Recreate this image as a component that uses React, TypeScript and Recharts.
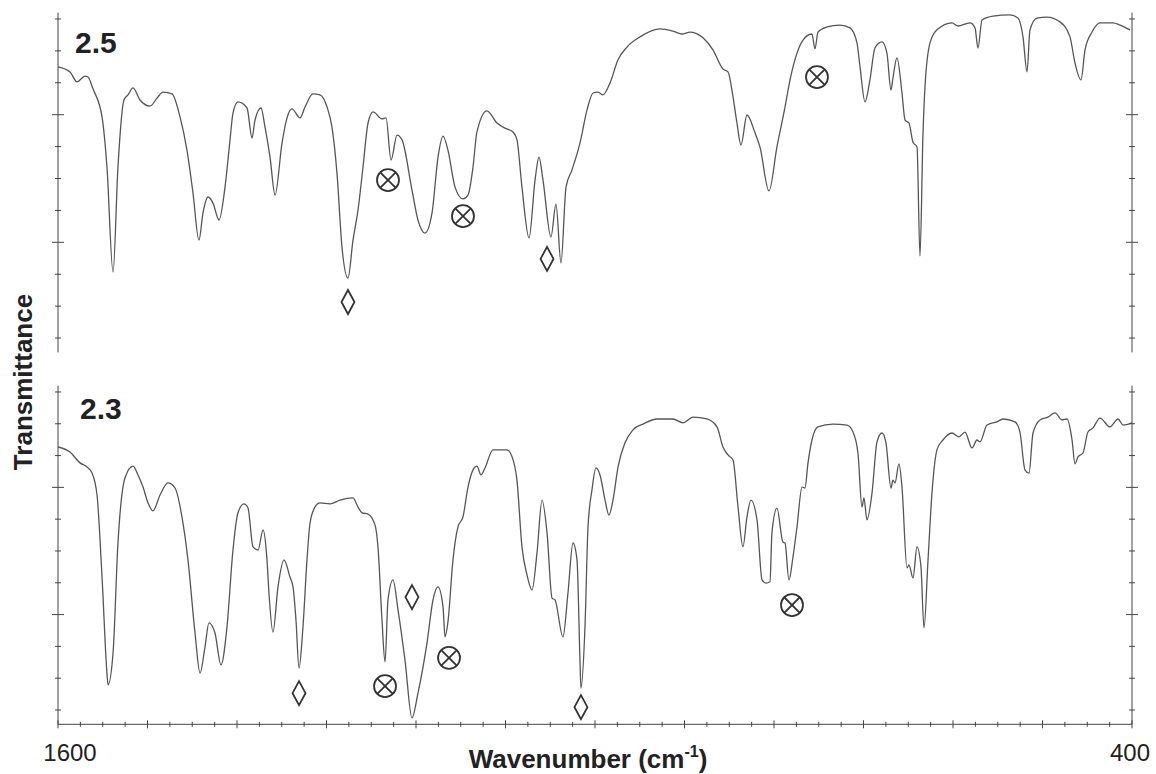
import React from "react";
import { ComposedChart, Line, Scatter, XAxis, YAxis } from "recharts";

// ---- Spectrum "2.5" (upper trace) ----
const topWavenumber = [
  1600, 1586.6, 1578.8, 1569.8, 1566.5, 1560.9, 1550.8, 1545.3, 1538.5, 1533.0,
  1526.3, 1521.8, 1516.2, 1508.4, 1497.2, 1489.4, 1482.7, 1472.6, 1463.7, 1455.9,
  1449.2, 1442.5, 1438.0, 1432.4, 1426.8, 1420.1, 1413.4, 1407.8, 1404.5, 1398.9,
  1388.8, 1383.2, 1379.9, 1373.2, 1368.7, 1363.1, 1357.5, 1349.7, 1344.1, 1338.6,
  1329.6, 1324.0, 1315.1, 1307.3, 1299.4, 1293.9, 1288.3, 1282.7, 1276.0, 1270.4,
  1264.8, 1259.2, 1253.6, 1248.0, 1238.0, 1233.5, 1227.9, 1221.2, 1215.6, 1204.5,
  1197.8, 1189.9, 1182.1, 1175.4, 1169.8, 1164.3, 1156.4, 1147.5, 1141.9, 1136.3,
  1131.9, 1120.7, 1109.5, 1100.6, 1091.6, 1087.2, 1081.6, 1073.7, 1067.0, 1062.6,
  1058.1, 1049.2, 1043.6, 1038.0, 1032.4, 1025.7, 1016.8, 1008.9, 1002.2, 996.7,
  991.1, 983.3, 974.3, 964.3, 949.7, 927.4, 912.9, 902.8, 893.9, 879.3,
  868.2, 857.0, 851.4, 845.8, 841.4, 836.9, 830.2, 821.2, 815.7, 805.6,
  796.7, 787.7, 782.1, 774.3, 767.6, 757.6, 754.2, 750.9, 740.8, 726.3,
  715.1, 707.3, 703.9, 698.3, 692.8, 687.2, 679.3, 673.8, 669.3, 667.1,
  662.6, 657.0, 653.6, 649.2, 644.7, 640.2, 636.9, 633.5, 631.3, 625.7,
  617.9, 601.1, 594.4, 581.0, 575.4, 572.1, 567.6, 555.3, 536.3, 527.4,
  521.8, 517.3, 514.0, 506.2, 495.0, 480.5, 469.3, 463.7, 457.0, 452.5,
  444.7, 435.8, 421.3, 413.4, 402.2,
];
const topTransmittance = [
  85.0, 83.4, 80.3, 82.1, 81.8, 78.1, 69.3, 53.6, 20.7, 53.6,
  74.6, 76.2, 78.4, 74.6, 72.7, 75.2, 77.1, 76.5, 69.3, 58.9,
  45.5, 30.7, 39.2, 44.2, 42.3, 37.0, 47.3, 62.1, 70.5, 74.0,
  72.1, 62.7, 68.3, 72.1, 66.1, 56.7, 44.8, 61.1, 69.0, 71.8,
  69.0, 72.4, 76.5, 76.2, 72.4, 66.1, 51.7, 28.5, 18.8, 30.7,
  40.1, 53.6, 67.4, 70.9, 68.7, 69.0, 55.8, 63.6, 62.1, 46.4,
  37.0, 32.9, 39.2, 56.7, 63.3, 58.9, 47.3, 43.6, 44.8, 53.6,
  64.6, 71.2, 67.4, 65.8, 64.6, 62.1, 47.3, 31.4, 49.5, 56.7,
  49.5, 31.7, 42.0, 23.5, 47.3, 52.7, 61.1, 71.5, 76.8, 77.1,
  76.2, 79.9, 87.2, 91.2, 94.4, 96.9, 96.2, 95.3, 95.9, 94.1,
  90.3, 84.3, 83.4, 75.6, 67.4, 60.5, 69.9, 64.3, 59.9, 46.1,
  59.9, 72.4, 80.9, 89.3, 93.4, 95.3, 90.6, 95.9, 97.5, 98.1,
  97.2, 92.5, 85.0, 74.0, 80.9, 90.9, 92.8, 89.3, 77.7, 81.5,
  87.8, 76.8, 68.3, 67.4, 61.4, 59.9, 25.7, 64.3, 78.7, 92.5,
  96.6, 98.8, 97.8, 98.8, 97.2, 90.9, 99.7, 100.9, 101.3, 100.3,
  94.4, 83.4, 96.6, 100.3, 100.6, 99.1, 94.4, 86.2, 80.9, 90.3,
  95.9, 98.8, 98.8, 98.1, 96.6,
];

// ---- Spectrum "2.3" (lower trace) ----
const bottomWavenumber = [
  1600, 1586.6, 1575.4, 1567.6, 1562.0, 1556.4, 1550.8, 1545.3, 1544.1, 1538.5,
  1533.0, 1525.1, 1516.2, 1510.6, 1505.0, 1499.4, 1493.9, 1486.0, 1477.1, 1469.3,
  1461.5, 1454.8, 1446.9, 1441.3, 1435.8, 1431.3, 1424.6, 1417.9, 1411.2, 1404.5,
  1398.9, 1392.2, 1387.7, 1382.1, 1376.5, 1370.9, 1366.5, 1364.3, 1359.8, 1354.2,
  1347.5, 1340.8, 1337.4, 1334.1, 1330.7, 1326.3, 1321.8, 1318.4, 1312.9, 1307.3,
  1296.1, 1284.9, 1270.4, 1264.8, 1260.3, 1253.6, 1245.8, 1242.5, 1238.0, 1234.6,
  1231.3, 1225.7, 1220.1, 1212.3, 1204.5, 1197.8, 1187.7, 1181.0, 1175.4, 1169.8,
  1167.6, 1164.3, 1158.7, 1153.1, 1147.5, 1141.9, 1136.3, 1131.9, 1127.4, 1122.9,
  1114.0, 1098.3, 1092.7, 1087.2, 1081.6, 1076.0, 1070.4, 1064.8, 1059.2, 1053.6,
  1048.0, 1044.7, 1035.8, 1030.2, 1024.6, 1020.1, 1016.8, 1015.7, 1011.2, 1007.8,
  1003.4, 998.9, 994.4, 988.8, 984.4, 979.9, 974.3, 966.5, 957.6, 946.4,
  930.7, 912.9, 901.7, 890.5, 874.9, 863.7, 857.0, 851.4, 845.8, 840.2,
  834.7, 830.2, 825.7, 819.0, 813.4, 809.0, 804.5, 802.3, 796.7, 790.0,
  787.7, 783.3, 778.8, 774.3, 768.7, 765.4, 762.0, 757.6, 750.9, 734.1,
  718.4, 711.7, 706.2, 701.7, 699.5, 696.1, 690.5, 684.9, 679.3, 674.9,
  669.3, 667.1, 664.8, 660.4, 657.0, 651.4, 649.2, 644.7, 640.2, 635.8,
  632.4, 627.9, 623.5, 617.9, 611.2, 601.1, 593.3, 586.6, 578.8, 573.2,
  569.8, 562.0, 550.9, 544.2, 530.7, 525.2, 519.6, 515.1, 510.6, 502.8,
  493.9, 486.0, 478.2, 472.6, 467.0, 463.7, 460.3, 454.8, 449.2, 443.6,
  435.8, 424.6, 415.6, 410.0, 400.0,
];
const bottomTransmittance = [
  82.7, 81.1, 77.7, 76.4, 74.5, 67.6, 41.8, 11.6, 7.9, 17.9,
  52.5, 73.0, 76.7, 73.9, 70.1, 65.1, 62.6, 67.6, 71.4, 69.8,
  60.7, 47.2, 24.2, 11.6, 19.8, 27.4, 24.2, 14.2, 26.1, 50.3,
  62.0, 64.8, 63.5, 51.3, 50.3, 56.6, 47.2, 36.8, 24.5, 38.7,
  47.2, 41.8, 38.7, 28.3, 13.2, 26.1, 47.2, 58.8, 63.8, 65.1,
  64.8, 66.0, 66.7, 63.8, 62.0, 61.6, 58.2, 51.3, 28.3, 15.1,
  34.6, 40.9, 31.5, 15.7, -2.5, 5.3, 21.1, 34.6, 38.7, 32.4,
  23.0, 27.7, 47.2, 57.6, 60.7, 70.1, 75.5, 76.7, 73.9, 76.1,
  81.8, 81.8, 79.6, 72.3, 51.3, 42.5, 37.7, 49.4, 66.0, 55.7,
  35.2, 34.6, 23.0, 36.8, 52.5, 47.2, 15.7, 6.9, 26.1, 57.6,
  69.2, 76.1, 73.9, 66.0, 61.3, 66.0, 76.4, 84.0, 88.1, 89.9,
  91.5, 91.5, 90.3, 92.1, 91.5, 89.0, 82.7, 80.2, 78.6, 63.8,
  51.3, 60.7, 66.0, 59.8, 40.9, 39.9, 40.3, 55.7, 63.5, 52.8,
  52.5, 40.9, 48.1, 57.6, 70.1, 69.8, 77.7, 84.9, 89.0, 89.9,
  89.6, 87.4, 80.8, 63.8, 66.7, 59.8, 68.2, 84.3, 87.1, 84.0,
  69.8, 72.3, 71.4, 77.4, 70.1, 44.7, 45.6, 41.5, 51.3, 45.0,
  25.8, 47.2, 68.2, 81.8, 84.9, 87.1, 85.9, 87.4, 82.4, 84.9,
  84.3, 89.6, 90.6, 91.5, 90.6, 87.4, 75.5, 74.5, 87.1, 91.2,
  92.1, 93.4, 91.2, 91.5, 84.9, 77.4, 79.6, 80.8, 87.4, 88.7,
  91.8, 89.0, 91.5, 89.6, 90.3,
];

// ---- Band markers (wavenumber, transmittance) ----
const topDiamondWn = [1276.0, 1053.6];
const topDiamondT = [11.3, 24.8];
const topCrossWn = [1231.3, 1147.5, 752.0];
const topCrossT = [49.5, 38.2, 81.8];
const bottomDiamondWn = [1330.7, 1204.5, 1015.7];
const bottomDiamondT = [5.3, 35.5, 0.9];
const bottomCrossWn = [1234.6, 1163.1, 779.9];
const bottomCrossT = [7.5, 16.4, 33.0];

// ---- Labels / ticks ----
const panelLabels = ["2.5", "2.3"];
const xEndLabels = [1600, 400];
const xTitle = "Wavenumber (cm";
const yTitle = "Transmittance";
const yTicks = [0, 10, 20, 30, 40, 50, 60, 70, 80, 90, 100];
const yMajorTicks = [30, 70];
const xTicks = Array.from({ length: 49 }, (_, i) => 400 + i * 25);

const zip = (w: number[], t: number[]) => w.map((wn, i) => ({ wn, t: t[i] }));

const topData = zip(topWavenumber, topTransmittance);
const bottomData = zip(bottomWavenumber, bottomTransmittance);
const topDiamonds = zip(topDiamondWn, topDiamondT);
const topCrosses = zip(topCrossWn, topCrossT);
const bottomDiamonds = zip(bottomDiamondWn, bottomDiamondT);
const bottomCrosses = zip(bottomCrossWn, bottomCrossT);

const FONT = '"Liberation Sans", Arial, Helvetica, sans-serif';
const AXIS = "#444";
const LINE = "#555";
const MARK = "#333";
const W = 1156;
const H = 774;

const YTick = (props: any) => {
  const { x, y, payload } = props;
  const major = yMajorTicks.includes(payload.value);
  const len = major ? 6 : 3;
  return <line x1={x - len} x2={x + len} y1={y} y2={y} stroke={AXIS} strokeWidth={1} />;
};

const XTick = (props: any) => {
  const { x, y, payload } = props;
  const v = payload.value;
  const major = v % 100 === 0;
  const len = major ? 4 : 2.5;
  const labelled = xEndLabels.includes(v);
  const dx = v === 1600 ? 12 : -2;
  return (
    <g>
      <line x1={x} x2={x} y1={y - len} y2={y + len} stroke={AXIS} strokeWidth={1} />
      {labelled && (
        <text x={x + dx} y={y + 37} textAnchor="middle" fontSize={24} fill="#222" fontFamily={FONT}>
          {v}
        </text>
      )}
    </g>
  );
};

const Diamond = (props: any) => {
  const { cx, cy } = props;
  return (
    <path
      d={`M${cx},${cy - 12} L${cx + 6.5},${cy} L${cx},${cy + 12} L${cx - 6.5},${cy} Z`}
      fill="none"
      stroke={MARK}
      strokeWidth={1.8}
    />
  );
};

const CircleX = (props: any) => {
  const { cx, cy } = props;
  const r = 11;
  const d = r * 0.7071;
  return (
    <g fill="none" stroke={MARK} strokeWidth={1.8}>
      <circle cx={cx} cy={cy} r={r} />
      <line x1={cx - d} y1={cy - d} x2={cx + d} y2={cy + d} />
      <line x1={cx - d} y1={cy + d} x2={cx + d} y2={cy - d} />
    </g>
  );
};

type PanelProps = {
  data: { wn: number; t: number }[];
  diamonds: { wn: number; t: number }[];
  crosses: { wn: number; t: number }[];
  top: number;
  bottom: number;
  showX: boolean;
};

const Panel = ({ data, diamonds, crosses, top, bottom, showX }: PanelProps) => {
  const xHeight = showX ? H - bottom : 0;
  return (
    <div style={{ position: "absolute", left: 0, top: 0 }}>
      <ComposedChart
        width={W}
        height={H}
        margin={{ top, right: 16, left: 50, bottom: showX ? 0 : H - bottom }}
        style={{ fontFamily: FONT }}
      >
        <XAxis
          type="number"
          dataKey="wn"
          domain={[400, 1600]}
          reversed
          allowDataOverflow
          ticks={xTicks}
          interval={0}
          hide={!showX}
          height={xHeight}
          tickSize={0}
          tickMargin={0}
          tickLine={false}
          axisLine={{ stroke: AXIS, strokeWidth: 1 }}
          tick={(p: any) => <XTick {...p} />}
        />
        <YAxis
          yAxisId="left"
          type="number"
          domain={[-4.5, 102]}
          allowDataOverflow
          ticks={yTicks}
          interval={0}
          width={8}
          tickSize={0}
          tickMargin={0}
          tickLine={false}
          axisLine={{ stroke: AXIS, strokeWidth: 1 }}
          tick={(p: any) => <YTick {...p} />}
        />
        <YAxis
          yAxisId="right"
          orientation="right"
          type="number"
          domain={[-4.5, 102]}
          allowDataOverflow
          ticks={yTicks}
          interval={0}
          width={8}
          tickSize={0}
          tickMargin={0}
          tickLine={false}
          axisLine={{ stroke: AXIS, strokeWidth: 1 }}
          tick={(p: any) => <YTick {...p} />}
        />
        <Line
          yAxisId="left"
          data={data}
          dataKey="t"
          type="monotoneX"
          dot={false}
          stroke={LINE}
          strokeWidth={1.3}
          isAnimationActive={false}
        />
        <Scatter
          yAxisId="left"
          data={diamonds}
          dataKey="t"
          shape={(p: any) => <Diamond {...p} />}
          isAnimationActive={false}
        />
        <Scatter
          yAxisId="left"
          data={crosses}
          dataKey="t"
          shape={(p: any) => <CircleX {...p} />}
          isAnimationActive={false}
        />
      </ComposedChart>
    </div>
  );
};

export default function App() {
  return (
    <div
      style={{
        position: "absolute",
        left: 0,
        top: 0,
        width: W,
        height: H,
        background: "#fff",
        overflow: "hidden",
        fontFamily: FONT,
      }}
    >
      <Panel data={topData} diamonds={topDiamonds} crosses={topCrosses} top={12.6} bottom={352.4} showX={false} />
      <Panel data={bottomData} diamonds={bottomDiamonds} crosses={bottomCrosses} top={385.6} bottom={724.3} showX={true} />
      <svg width={W} height={H} style={{ position: "absolute", left: 0, top: 0, pointerEvents: "none" }}>
        <text x={75} y={53} fontSize={30} fontWeight={700} fill="#222" fontFamily={FONT}>
          {panelLabels[0]}
        </text>
        <text x={80} y={419} fontSize={30} fontWeight={700} fill="#222" fontFamily={FONT}>
          {panelLabels[1]}
        </text>
        <text
          x={0}
          y={0}
          transform="translate(32, 382) rotate(-90)"
          textAnchor="middle"
          fontSize={26}
          fontWeight={700}
          fill="#222"
          fontFamily={FONT}
        >
          {yTitle}
        </text>
        <text x={588} y={768} textAnchor="middle" fontSize={26} fontWeight={700} fill="#222" fontFamily={FONT}>
          {xTitle}
          <tspan fontSize={16} dy={-11}>-1</tspan>
          <tspan dy={11}>)</tspan>
        </text>
      </svg>
    </div>
  );
}
